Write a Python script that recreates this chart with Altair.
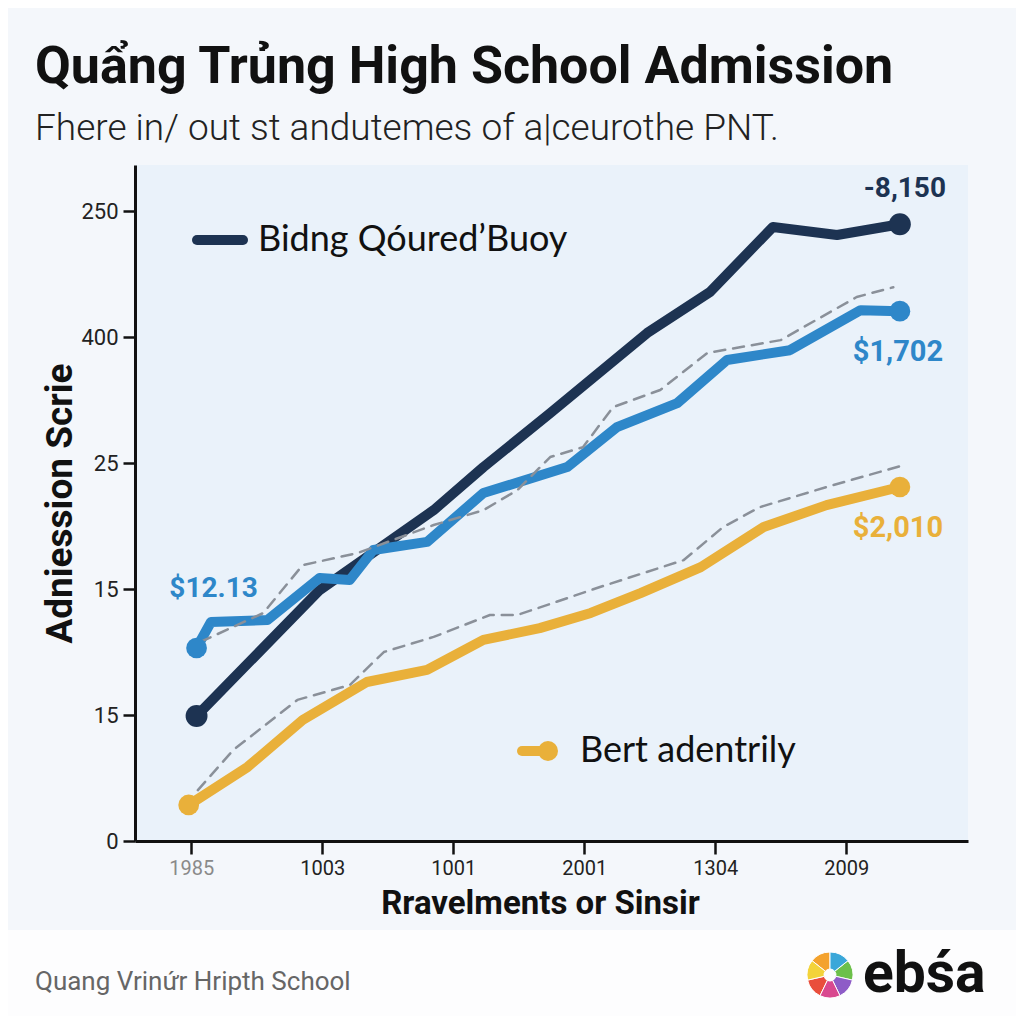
import json
import altair as alt
import pandas as pd

# ---------------- data ----------------
x_ticks = [0, 1, 2, 3, 4, 5]
x_labels = ["1985", "1003", "1001", "2001", "1304", "2009"]
y_ticks = [0, 50, 100, 150, 200, 250]
y_labels = ["0", "15", "15", "25", "400", "250"]

navy_x = [0.04, 0.98, 1.85, 2.23, 2.74, 3.48, 3.96, 4.44, 4.93, 5.41]
navy_y = [49.6, 99.6, 131.3, 148.4, 169.8, 201.6, 217.9, 243.7, 240.5, 244.8]

blue_x = [0.04, 0.15, 0.58, 0.98, 1.21, 1.39, 1.80, 2.23, 2.87, 3.25, 3.71, 4.09, 4.57, 5.11, 5.41]
blue_y = [76.6, 86.9, 87.7, 104.4, 103.6, 115.5, 118.7, 138.1, 148.4, 164.3, 173.8, 190.9, 194.8, 210.7, 210.3]

yellow_x = [-0.02, 0.43, 0.85, 1.34, 1.80, 2.23, 2.66, 3.05, 3.43, 3.89, 4.37, 4.85, 5.41]
yellow_y = [14.3, 29.4, 48.0, 63.1, 67.9, 79.8, 84.5, 90.5, 98.4, 108.7, 124.6, 133.3, 140.5]

dashA_x = [0.07, 0.55, 0.85, 1.27, 1.85, 2.23, 2.49, 2.74, 2.99, 3.22, 3.58, 3.94, 4.50, 5.08, 5.36]
dashA_y = [79.0, 90.5, 109.5, 114.3, 125.4, 131.3, 139.3, 152.4, 156.3, 172.2, 179.0, 193.7, 198.8, 215.9, 219.8]

dashB_x = [0.05, 0.32, 0.81, 1.21, 1.47, 1.85, 2.28, 2.49, 3.12, 3.76, 4.06, 4.34, 4.85, 5.44]
dashB_y = [20.2, 36.1, 56.0, 61.9, 75.0, 81.0, 89.7, 89.7, 100.8, 111.5, 124.6, 132.5, 140.5, 149.2]

ann_navy = "-8,150"
ann_blue_end = "$1,702"
ann_yellow_end = "$2,010"
ann_blue_start = "$12.13"

title = "Quẩng Trủng High School Admission"
subtitle = "Fhere in/ out st andutemes of a|ceurothe PNT."
x_title = "Rravelments or Sinsir"
y_title = "Adniession Scrie"
legend1 = "Bidng Qóured’Buoy"
legend2 = "Bert adentrily"
footer = "Quang Vrinứr Hripth School"
logo = "ebśa"
logo_colors = ["#e94e3c", "#f4a22d", "#f3d33a", "#6cc04a", "#3aa7d9", "#8e5cc7", "#d9488f"]

NAVY = "#1d3352"
BLUE = "#2e87c9"
YELLOW = "#e9b03a"
GRAY = "#8a9099"

W, H = 833, 676


def df(xs, ys):
    return pd.DataFrame({"x": xs, "y": ys})


navy = df(navy_x, navy_y)
blue = df(blue_x, blue_y)
yellow = df(yellow_x, yellow_y)
dashA = df(dashA_x, dashA_y)
dashB = df(dashB_x, dashB_y)

xlab_expr = f"{json.dumps(x_labels)}[indexof({json.dumps(x_ticks)}, datum.value)]"
ylab_expr = f"{json.dumps(y_labels)}[indexof({json.dumps(y_ticks)}, datum.value)]"

xs = alt.Scale(domain=[-0.43, 5.93], nice=False, zero=False)
ys = alt.Scale(domain=[0, 268.3], nice=False, zero=False)

X = alt.X(
    "x:Q", scale=xs,
    axis=alt.Axis(
        values=x_ticks, labelExpr=xlab_expr, title=x_title, grid=False,
        domainColor="#111", domainWidth=3, tickColor="#111", tickWidth=2.5, tickSize=13,
        labelFont="Roboto", labelFontSize=20, labelPadding=4,
        labelColor=alt.condition("datum.value == 0", alt.value("#8a8a8a"), alt.value("#222")),
        titleFont="Roboto", titleFontWeight="bold", titleFontSize=33, titleColor="#111",
        titleX=405, titleY=62, titleBaseline="middle", titleAnchor="middle",
    ),
)
Y = alt.Y(
    "y:Q", scale=ys,
    axis=alt.Axis(
        values=y_ticks, labelExpr=ylab_expr, title=y_title, grid=False,
        domainColor="#111", domainWidth=3, tickColor="#111", tickWidth=2.5, tickSize=12,
        labelFont="Roboto", labelFontSize=22, labelPadding=5, labelColor="#222",
        titleFont="Roboto", titleFontWeight="bold", titleFontSize=37, titleColor="#111",
        titleX=-75, titleY=338, titleAngle=-90, titleBaseline="middle", titleAlign="center",
    ),
)


def line(data, color, dash=None, width=10):
    kw = dict(color=color, strokeWidth=width, strokeJoin="round", strokeCap="round")
    if dash:
        kw["strokeDash"] = dash
    return alt.Chart(data).mark_line(**kw).encode(x=X, y=Y)


def ends(data, color, size):
    d = pd.concat([data.iloc[[0]], data.iloc[[-1]]])
    return alt.Chart(d).mark_circle(color=color, size=size, opacity=1).encode(x=X, y=Y)


def ann(data, idx, text, color, dx, dy, size=28):
    d = data.iloc[[idx]].assign(t=text)
    return alt.Chart(d).mark_text(
        color=color, font="Roboto", fontWeight="bold", fontSize=size,
        dx=dx, dy=dy, align="center", baseline="middle",
    ).encode(x=X, y=Y, text="t:N")


def txt(text, x, y, size, color="#111", weight="normal", font="Roboto", align="left"):
    d = pd.DataFrame({"t": [text]})
    return alt.Chart(d).mark_text(
        color=color, font=font, fontWeight=weight, fontSize=size,
        align=align, baseline="middle",
    ).encode(x=alt.value(x), y=alt.value(y), text="t:N")


footer_band = alt.Chart(pd.DataFrame({"a": [0]})).mark_rect(color="#fdfdfe").encode(
    x=alt.value(-135), x2=alt.value(889), y=alt.value(765), y2=alt.value(870))

layers = [
    footer_band,
    line(navy, NAVY),
    line(blue, BLUE),
    line(yellow, YELLOW),
    line(dashA, GRAY, dash=[11, 8], width=2.5),
    line(dashB, GRAY, dash=[11, 8], width=2.5),
    ends(navy, NAVY, 480),
    ends(blue, BLUE, 430),
    ends(yellow, YELLOW, 430),
    ann(navy, -1, ann_navy, NAVY, 5, -35),
    ann(blue, -1, ann_blue_end, BLUE, -2, 41, 29),
    ann(yellow, -1, ann_yellow_end, YELLOW, -2, 41, 29),
    ann(blue, 0, ann_blue_start, BLUE, 17, -59),
]

# legends
leg1_line = alt.Chart(pd.DataFrame({"a": [0]})).mark_rule(
    color=NAVY, strokeWidth=10, strokeCap="round").encode(
    x=alt.value(62), x2=alt.value(108), y=alt.value(75))
leg2_line = alt.Chart(pd.DataFrame({"a": [0]})).mark_rule(
    color=YELLOW, strokeWidth=10, strokeCap="round").encode(
    x=alt.value(387), x2=alt.value(412), y=alt.value(586))
leg2_dot = alt.Chart(pd.DataFrame({"a": [0]})).mark_circle(
    color=YELLOW, size=400, opacity=1).encode(x=alt.value(413), y=alt.value(586))

layers += [
    leg1_line, txt(legend1, 123, 75, 36, "#111", font="Lato"),
    leg2_line, leg2_dot, txt(legend2, 445, 586, 36, "#111", font="Lato"),
    txt(title, -100, -98, 52, "#111", weight="bold"),
    txt(subtitle, -100, -36, 37, "#222", weight=300),
    txt(footer, -100, 817, 26, "#666"),
    txt(logo, 728, 810, 57, "#111", weight="bold"),
]

logo_df = pd.DataFrame({"c": logo_colors, "v": [1] * len(logo_colors)})
logo_icon = alt.Chart(logo_df).mark_arc(innerRadius=6, outerRadius=23, stroke="#ffffff", strokeWidth=1).encode(
    theta=alt.Theta("v:Q", stack=True),
    color=alt.Color("c:N", scale=None, legend=None),
    x=alt.value(695), y=alt.value(810),
)
layers.append(logo_icon)

chart = alt.layer(*layers).properties(
    width=W, height=H,
    autosize=alt.AutoSizeParams(type="none"),
    padding={"left": 127, "top": 157, "right": 48, "bottom": 175},
).configure(
    background="#f4f7fb",
).configure_view(
    fill="#eaf2fa", stroke=None,
)

chart.save("out.html", embed_options={"renderer": "svg", "actions": False})
